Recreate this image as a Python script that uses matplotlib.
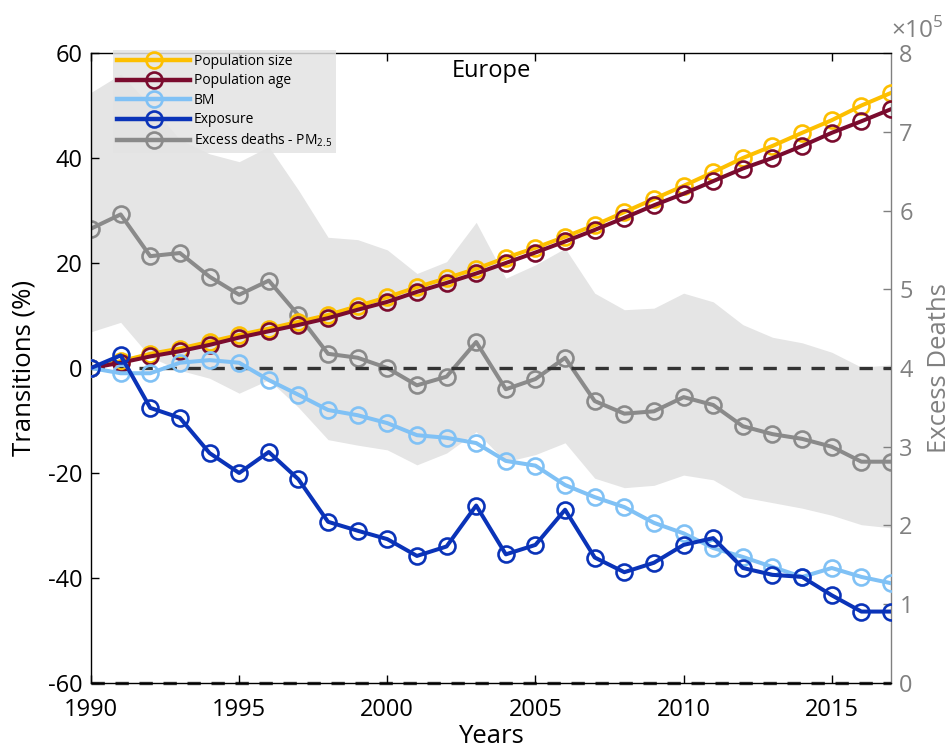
import matplotlib
matplotlib.use("Agg")
import matplotlib.pyplot as plt
from matplotlib.ticker import FuncFormatter
import numpy as np

plt.rcParams['font.family'] = ['Open Sans', 'DejaVu Sans']
plt.rcParams['axes.unicode_minus'] = False
plt.rcParams['mathtext.fontset'] = 'custom'
plt.rcParams['mathtext.rm'] = 'Open Sans'

years = list(range(1990, 2018))

pop_size = [0, 1.3, 2.7, 3.7, 5.0, 6.3, 7.5, 8.8, 10.1, 11.8, 13.5, 15.4, 17.1, 18.9,
            21.0, 22.9, 25.0, 27.2, 29.7, 32.2, 34.7, 37.3, 40.0, 42.3, 44.8, 47.2, 50.0, 52.4]
pop_age = [0, 1.0, 2.2, 3.2, 4.4, 5.8, 7.0, 8.2, 9.5, 11.1, 12.6, 14.5, 16.2, 18.0,
           20.0, 22.0, 24.1, 26.3, 28.6, 31.0, 33.2, 35.6, 38.0, 40.0, 42.3, 44.8, 47.0, 49.3]
bm = [0, -1.0, -1.0, 1.0, 1.5, 1.0, -2.3, -5.1, -8.0, -9.0, -10.5, -12.8, -13.3, -14.3,
      -17.7, -18.6, -22.3, -24.6, -26.5, -29.5, -31.5, -34.3, -36.0, -37.9, -39.8, -38.1, -39.8, -41.0]
exposure = [0, 2.4, -7.6, -9.5, -16.2, -20.0, -16.0, -21.2, -29.3, -31.0, -32.6, -35.8, -34.0, -26.2,
            -35.5, -33.7, -27.0, -36.1, -38.9, -37.1, -33.7, -32.4, -38.1, -39.4, -39.8, -43.3, -46.4, -46.4]

excess_deaths = [577000, 595000, 542000, 546000, 516000, 493000, 511000, 467000, 418000, 413000,
                 400000, 378000, 389000, 433000, 373000, 386000, 413000, 358000, 342000, 345000,
                 363000, 353000, 326000, 316000, 310000, 300000, 281000, 281000]
deaths_upper = [750000, 773000, 734000, 690000, 672000, 662000, 681000, 626000, 566000, 563000,
                550000, 520000, 535000, 585000, 514000, 531000, 552000, 495000, 474000, 476000,
                495000, 484000, 455000, 439000, 432000, 420000, 401000, 404000]
deaths_lower = [446000, 458000, 414000, 397000, 387000, 368000, 385000, 350000, 309000, 302000,
                296000, 277000, 292000, 319000, 281000, 290000, 305000, 260000, 248000, 251000,
                264000, 258000, 236000, 229000, 222000, 213000, 201000, 197000]

labels = ["Population size", "Population age", "BM", "Exposure", "Excess deaths - PM$_{2.5}$"]
colors = ["#FDBF00", "#7A0B2E", "#80C1F5", "#0A33B8", "#8A8A8A"]
right_color = "#808080"

fig = plt.figure(figsize=(9.5, 7.52), dpi=100)
ax1 = fig.add_axes([0.0958, 0.0918, 0.8421, 0.8377])
ax2 = ax1.twinx()
ax1.set_zorder(ax2.get_zorder() + 1)
ax1.patch.set_visible(False)

line_kw = dict(linewidth=2.9, marker='o', markersize=11.5, markerfacecolor='none',
               markeredgewidth=1.9)

# Excess deaths and its uncertainty range on the right axis
ax2.fill_between(years, deaths_lower, deaths_upper, color="#E5E5E5", linewidth=0)
h5, = ax2.plot(years, excess_deaths, color=colors[4], markeredgecolor=colors[4], **line_kw)

# Reference lines
ax1.axhline(0, color="#333333", linestyle=(0, (4, 3.2)), linewidth=2.4, zorder=1)
ax1.axhline(-60, color="#333333", linestyle=(0, (4, 3.2)), linewidth=2.4, zorder=1, clip_on=False)

handles = []
for vals, c in zip([pop_size, pop_age, bm, exposure], colors[:4]):
    h, = ax1.plot(years, vals, color=c, markeredgecolor=c, zorder=3, **line_kw)
    handles.append(h)
handles.append(h5)

ax1.set_xlim(1990, 2017)
ax1.set_ylim(-60, 60)
ax1.set_xticks([1990, 1995, 2000, 2005, 2010, 2015])
ax1.set_yticks([-60, -40, -20, 0, 20, 40, 60])
ax1.tick_params(axis='both', direction='in', length=6, width=1, labelsize=17,
                top=True, colors='black')
ax1.tick_params(axis='x', pad=11)
ax1.tick_params(axis='y', pad=6)
ax1.set_xlabel("Years", fontsize=18.5, labelpad=1)
ax1.set_ylabel("Transitions (%)", fontsize=18.5, labelpad=8)

ax2.set_ylim(0, 800000)
ax2.set_yticks(np.arange(0, 800001, 100000))
ax2.yaxis.set_major_formatter(FuncFormatter(lambda v, p: f"{v / 1e5:g}"))
ax2.tick_params(axis='y', direction='in', length=6, width=1, labelsize=17,
                colors=right_color, pad=6)
ax2.text(1.0, 1.014, r"$\times10^{5}$", transform=ax2.transAxes, ha='left', va='bottom',
         fontsize=17.5, color=right_color)
ax2.set_ylabel("Excess Deaths", fontsize=18.5, color=right_color, labelpad=10)

for side in ['left', 'top', 'bottom']:
    ax1.spines[side].set_color('black')
    ax2.spines[side].set_visible(False)
ax1.spines['right'].set_visible(False)
ax2.spines['right'].set_color(right_color)
for sp in ax1.spines.values():
    sp.set_linewidth(1.0)
ax2.spines['right'].set_linewidth(1.0)

ax1.text(0.5, 0.99, "Europe", transform=ax1.transAxes, ha='center', va='top', fontsize=17)

leg = ax1.legend(handles, labels, loc='upper left', bbox_to_anchor=(0.027, 1.005),
                 fontsize=10, frameon=True, fancybox=False, framealpha=0.85,
                 facecolor="#E3E3E3", edgecolor='none', handlelength=5.3,
                 handletextpad=0.25, labelspacing=0.32, borderpad=0.3, borderaxespad=0.0,
                 numpoints=1)
for lh in leg.get_lines():
    lh.set_linewidth(3.2)

fig.savefig("out.png", dpi=100)
